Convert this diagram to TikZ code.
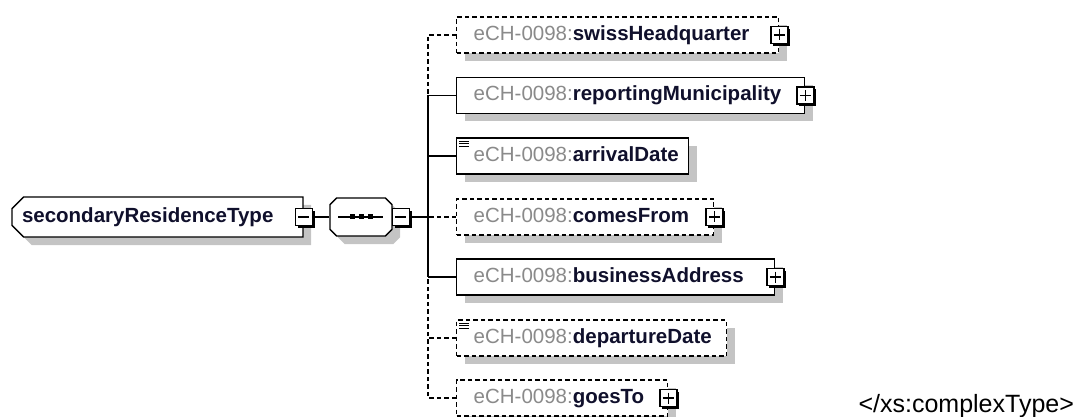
\documentclass[tikz,border=0pt]{standalone}
\usepackage{fontspec}
\setmainfont{Liberation Sans}
\usepackage{tikz}
\definecolor{pfx}{HTML}{8A8A8A}
\definecolor{nm}{HTML}{10102C}
\definecolor{shade}{HTML}{C4C4C4}
\usetikzlibrary{shapes.misc,shadows,calc}
\newcommand{\ech}[1]{\textcolor{pfx}{eCH-0098:}\textcolor{nm}{\textbf{#1}}}
\tikzset{
  conn/.style={line width=1.4pt},
  optconn/.style={conn, dash pattern=on 4.5pt off 3pt},
  boxshadow/.style={drop shadow={shadow xshift=8pt, shadow yshift=-8pt,
      fill=shade, opacity=1}},
  elem/.style={draw,
    fill=white,
    line width=1.4pt,
    boxshadow,
    anchor=west,
    minimum height=36pt,
    inner xsep=0pt,
    text width=#1,
    text height=15pt,
    text depth=4.5pt,
    font=\fontsize{20.5}{24}\selectfont,
    execute at begin node={\noindent\hspace*{17pt}}},
  optelem/.style={elem=#1,
    dash pattern=on 4.5pt off 3pt},
  xbox/.style={draw,
    fill=white,
    line width=1.4pt,
    minimum size=17pt,
    inner sep=0pt,
    drop shadow={shadow xshift=2.5pt, shadow yshift=-2.5pt,
      fill=black, opacity=1}},
  minusbox/.style={xbox,
    path picture={\draw[line width=1.3pt]
      ([xshift=3pt]path picture bounding box.west) --
      ([xshift=-3pt]path picture bounding box.east);}},
  plusbox/.style={xbox,
    path picture={\draw[line width=1.3pt]
      ([xshift=3pt]path picture bounding box.west) --
      ([xshift=-3pt]path picture bounding box.east)
      ([yshift=-3pt]path picture bounding box.north) --
      ([yshift=3pt]path picture bounding box.south);}}}

\begin{document}
\begin{tikzpicture}[x=1pt, y=-1pt]
  \useasboundingbox (0,0) rectangle (1088,417);
  \coordinate (R) at (157.5,217);
  \coordinate (S) at (361,217);
  \coordinate (trunk) at (428,217);

% root type and its sequence
\node[chamfered rectangle,
  chamfered rectangle corners={north west,south west},
  chamfered rectangle xsep=8pt,
  draw,
  fill=white,
  line width=1.4pt,
  boxshadow,
  minimum width=291pt,
  minimum height=40pt,
  inner xsep=0pt,
  text width=275pt,
  font=\fontsize{20.5}{24}\selectfont,
  execute at begin node={\noindent\hspace*{2pt}}] (root) at (R)
  {\textcolor{nm}{\textbf{secondaryResidenceType}}};
\node[minusbox] (rootx) at (root.east) {};

\node[chamfered rectangle,
  chamfered rectangle xsep=9pt,
  draw,
  fill=white,
  line width=1.4pt,
  boxshadow,
  minimum width=62pt,
  minimum height=38pt] (seq) at (S) {};
\node[minusbox] (seqx) at ([xshift=8pt]seq.east) {};
\draw[conn] ([xshift=-23pt]seq.center) -- ([xshift=22pt]seq.center);
\foreach \dx in {-9,0,9}
  \fill ([xshift=\dx pt]seq.center) +(-2.5,-2.5) rectangle +(2.5,2.5);

% child elements
\node[optelem=322pt] (swiss) at (456,35) {\ech{swissHeadquarter}};
\node[elem=348pt] (report) at (456,95.5) {\ech{reportingMunicipality}};
\node[elem=232pt] (arrival) at (456,156) {\ech{arrivalDate}};
\node[optelem=257pt] (comes) at (456,217) {\ech{comesFrom}};
\node[elem=318pt] (addr) at (456,277) {\ech{businessAddress}};
\node[optelem=270pt] (depart) at (456,338) {\ech{departureDate}};
\node[optelem=211pt] (goes) at (456,398) {\ech{goesTo}};

\foreach \n in {swiss,report,comes,addr,goes}
  \node[plusbox] (\n x) at (\n.east) {};
\foreach \n in {arrival,depart}
  \foreach \dy in {4,6.5,9}
    \draw[line width=1pt] ([xshift=3pt,yshift=-\dy pt]\n.north west) -- ++(10,0);

% connectors
\draw[conn] (rootx.east) -- (seq.west);
\draw[conn] (seqx.east) -- (trunk);
\draw[optconn] (swiss.west) -| (trunk |- report.west);
\draw[optconn] (goes.west) -| (trunk |- addr.west);
\draw[optconn] (comes.west) -- (trunk);
\draw[optconn] (depart.west) -- (depart.west -| trunk);
\draw[conn] (report.west) -| (trunk |- addr.west);
\draw[conn] (arrival.west) -- (arrival.west -| trunk);
\draw[conn] (addr.west) -- (addr.west -| trunk);

\node[font=\fontsize{25}{30}\selectfont, anchor=base west] (close) at (855,412)
  {</xs:complexType>};
\end{tikzpicture}
\end{document}
